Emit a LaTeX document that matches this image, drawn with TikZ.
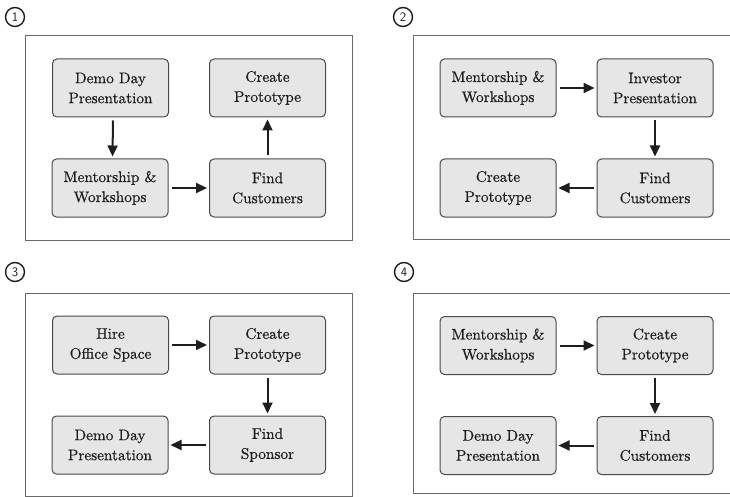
\documentclass[tikz,border=0pt]{standalone}
\usepackage{fontspec}
\newfontfamily\boxfont{lmroman10-regular}[Extension=.otf, FakeBold=0.6]
\usetikzlibrary{arrows.meta}
\definecolor{boxfill}{HTML}{E6E6E6}
\definecolor{boxline}{HTML}{4A4A4A}
\definecolor{panelline}{HTML}{6A6A6A}
\definecolor{inkc}{HTML}{1E1E1E}
\tikzset{
  stepbox/.style={draw=boxline, line width=1pt, fill=boxfill, rounded corners=4.5pt,
    minimum width=116pt, minimum height=58pt, align=center, text=inkc,
    font=\boxfont\fontsize{15.3}{20}\selectfont, inner sep=0pt},
  panel/.style={draw=panelline, line width=1pt},
  flow/.style={draw=inkc, line width=2pt, -{Triangle[length=11pt,width=10pt]},
    shorten <=3pt, shorten >=2pt},
  numc/.style={circle, draw=inkc, line width=1.4pt, minimum size=19pt, inner sep=0pt,
    font=\sffamily\fontsize{13}{14}\selectfont, text=inkc}
}
\begin{document}
\begin{tikzpicture}[x=1pt,y=-1pt]
\useasboundingbox (0,0) rectangle (730,497);
\clip (0,0) rectangle (730,497);
% panel 1
\node[numc] (n1) at (15,17) {1};
\draw[panel] (25,36) rectangle (352,240);
\node[stepbox] (a1) at (110.5,88) {Demo Day\\Presentation};
\node[stepbox] (b1) at (267.5,88) {Create\\Prototype};
\node[stepbox] (c1) at (110,188) {Mentorship \&\\Workshops};
\node[stepbox] (d1) at (267.5,188) {Find\\Customers};
\draw[flow] ([xshift=2.5pt]a1.south) -- ([xshift=2.5pt]c1.north);
\draw[flow] (c1.east) -- (d1.west);
\draw[flow] (d1.north) -- (b1.south);
% panel 2
\node[numc] (n2) at (403,17) {2};
\draw[panel] (413,36) rectangle (745,239);
\node[stepbox] (a2) at (498,88) {Mentorship \&\\Workshops};
\node[stepbox] (b2) at (655,88) {Investor\\Presentation};
\node[stepbox] (c2) at (498,188) {Create\\Prototype};
\node[stepbox] (d2) at (655,188) {Find\\Customers};
\draw[flow] (a2.east) -- (b2.west);
\draw[flow] (b2.south) -- (d2.north);
\draw[flow] (d2.west) -- (c2.east);
% panel 3
\node[numc] (n3) at (15,272) {3};
\draw[panel] (25,293) rectangle (352,496);
\node[stepbox] (a3) at (110.5,345) {Hire\\Office Space};
\node[stepbox] (b3) at (267.5,345) {Create\\Prototype};
\node[stepbox] (c3) at (110,445) {Demo Day\\Presentation};
\node[stepbox] (d3) at (267.5,445) {Find\\Sponsor};
\draw[flow] (a3.east) -- (b3.west);
\draw[flow] (b3.south) -- (d3.north);
\draw[flow] (d3.west) -- (c3.east);
% panel 4
\node[numc] (n4) at (404,272) {4};
\draw[panel] (413,293) rectangle (745,493);
\node[stepbox] (a4) at (498,345.5) {Mentorship \&\\Workshops};
\node[stepbox] (b4) at (655,345.5) {Create\\Prototype};
\node[stepbox] (c4) at (498,445.5) {Demo Day\\Presentation};
\node[stepbox] (d4) at (655,445.5) {Find\\Customers};
\draw[flow] (a4.east) -- (b4.west);
\draw[flow] (b4.south) -- (d4.north);
\draw[flow] (d4.west) -- (c4.east);
\end{tikzpicture}
\end{document}
